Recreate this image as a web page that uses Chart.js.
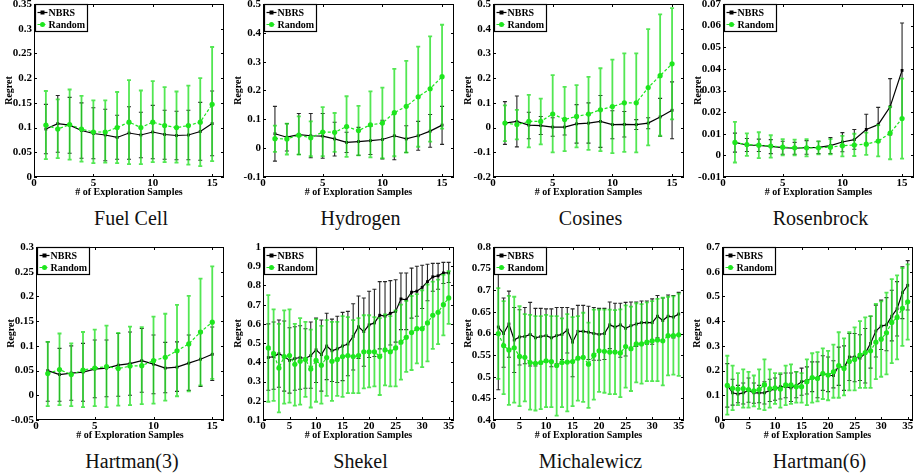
<!DOCTYPE html>
<html>
<head>
<meta charset="utf-8">
<script src="https://cdn.jsdelivr.net/npm/chart.js@4.4.1/dist/chart.umd.min.js"></script>
<style>
  html, body { margin: 0; padding: 0; background: #fff; }
  #wrap { position: relative; width: 920px; height: 474px; overflow: hidden; }
  canvas { position: absolute; }
  .ptitle { position: absolute; width: 200px; text-align: center; font-family: 'Liberation Serif', 'Times New Roman', serif; font-size: 20px; line-height: 20px; color: #111; }
</style>
</head>
<body>
<div id="wrap"></div>
<script>
// x positions and tick labels
const xs15 = [1,2,3,4,5,6,7,8,9,10,11,12,13,14,15];
const xs35 = [1,2,3,4,5,6,7,8,9,10,11,12,13,14,15,16,17,18,19,20,21,22,23,24,25,26,27,28,29,30,31,32,33,34,35];
const xTicks15 = [0,5,10,15];
const xTicks35 = [0,5,10,15,20,25,30,35];

// Fuel Cell
const fuelYTicks = [0,0.05,0.1,0.15,0.2,0.25,0.3,0.35];
const fuelNbrs   = [0.097,0.108,0.105,0.094,0.088,0.085,0.080,0.089,0.085,0.091,0.086,0.084,0.085,0.092,0.108];
const fuelNbrsLo = [0.047,0.050,0.048,0.038,0.037,0.033,0.036,0.036,0.039,0.037,0.036,0.035,0.035,0.034,0.043];
const fuelNbrsHi = [0.147,0.165,0.161,0.150,0.140,0.137,0.125,0.142,0.131,0.145,0.135,0.133,0.135,0.151,0.174];
const fuelRand   = [0.105,0.097,0.106,0.097,0.091,0.091,0.100,0.111,0.100,0.111,0.104,0.100,0.104,0.111,0.147];
const fuelRandLo = [0.036,0.038,0.035,0.031,0.028,0.029,0.028,0.026,0.026,0.030,0.030,0.029,0.025,0.022,0.032];
const fuelRandHi = [0.174,0.157,0.177,0.164,0.155,0.155,0.172,0.196,0.175,0.194,0.182,0.173,0.185,0.200,0.263];

// Hydrogen
const hydroYTicks = [-0.1,0,0.1,0.2,0.3,0.4,0.5];
const hydroNbrs   = [0.050,0.038,0.047,0.043,0.042,0.032,0.020,0.023,0.026,0.030,0.043,0.032,0.043,0.059,0.080];
const hydroNbrsLo = [-0.045,-0.010,-0.022,-0.033,-0.035,-0.027,-0.015,-0.025,-0.022,-0.037,-0.040,-0.015,-0.007,0.003,0.013];
const hydroNbrsHi = [0.145,0.085,0.120,0.120,0.120,0.090,0.055,0.072,0.075,0.097,0.125,0.078,0.093,0.117,0.145];
const hydroRand   = [0.033,0.032,0.045,0.036,0.056,0.055,0.075,0.061,0.081,0.087,0.123,0.145,0.178,0.206,0.248];
const hydroRandLo = [-0.013,-0.022,-0.022,-0.028,-0.028,-0.013,-0.030,-0.025,-0.032,-0.035,-0.028,-0.015,0.005,0.023,0.068];
const hydroRandHi = [0.078,0.085,0.110,0.093,0.142,0.122,0.180,0.147,0.197,0.210,0.275,0.303,0.352,0.388,0.428];

// Cosines
const cosYTicks = [-0.2,-0.1,0,0.1,0.2,0.3,0.4,0.5];
const cosNbrs   = [0.018,0.025,0.010,0.008,0.002,0.002,0.015,0.018,0.025,0.012,0.013,0.012,0.018,0.043,0.070];
const cosNbrsLo = [-0.068,-0.078,-0.045,-0.028,-0.035,-0.030,-0.063,-0.063,-0.080,-0.045,-0.038,-0.008,-0.005,-0.035,-0.045];
const cosNbrsHi = [0.105,0.128,0.062,0.045,0.040,0.035,0.093,0.100,0.130,0.068,0.065,0.032,0.040,0.118,0.185];
const cosRand   = [0.018,0.012,0.025,0.025,0.055,0.033,0.045,0.055,0.072,0.085,0.100,0.100,0.162,0.210,0.258];
const cosRandLo = [-0.055,-0.048,-0.080,-0.068,-0.100,-0.095,-0.080,-0.090,-0.095,-0.103,-0.098,-0.100,-0.072,-0.033,0.033];
const cosRandHi = [0.090,0.072,0.132,0.117,0.212,0.165,0.172,0.205,0.240,0.275,0.300,0.300,0.398,0.458,0.483];

// Rosenbrock
const rosYTicks = [-0.01,0,0.01,0.02,0.03,0.04,0.05,0.06,0.07];
const rosNbrs   = [0.0060,0.0048,0.0046,0.0042,0.0036,0.0033,0.0036,0.0037,0.0045,0.0062,0.0073,0.0120,0.0142,0.0225,0.0393];
const rosNbrsLo = [0.0015,0.0018,0.0018,0.0008,0.0005,0.0005,0.0005,0.0008,0.0008,0.0017,0.0028,0.0050,0.0062,0.0095,0.0175];
const rosNbrsHi = [0.0103,0.0078,0.0075,0.0073,0.0065,0.0060,0.0068,0.0065,0.0082,0.0105,0.0120,0.0190,0.0222,0.0355,0.0612];
const rosRand   = [0.0060,0.0050,0.0047,0.0043,0.0038,0.0035,0.0035,0.0035,0.0038,0.0045,0.0048,0.0052,0.0066,0.0103,0.0170];
const rosRandLo = [-0.0033,-0.0002,-0.0013,-0.0010,0.0000,0.0000,-0.0005,0.0005,0.0005,-0.0005,-0.0003,0.0002,-0.0005,-0.0018,-0.0015];
const rosRandHi = [0.0155,0.0102,0.0107,0.0093,0.0075,0.0073,0.0075,0.0065,0.0075,0.0090,0.0100,0.0105,0.0140,0.0225,0.0355];

// Hartman(3)
const h3YTicks = [-0.05,0,0.05,0.1,0.15,0.2,0.25,0.3];
const h3Nbrs   = [0.050,0.042,0.045,0.047,0.053,0.055,0.061,0.064,0.070,0.063,0.055,0.057,0.065,0.073,0.083];
const h3NbrsLo = [-0.012,-0.012,-0.010,-0.012,-0.005,-0.003,-0.002,0.000,0.006,0.003,0.005,0.008,0.010,0.018,0.030];
const h3NbrsHi = [0.108,0.095,0.100,0.105,0.112,0.112,0.125,0.128,0.135,0.122,0.107,0.108,0.122,0.130,0.138];
const h3Rand   = [0.044,0.052,0.042,0.051,0.055,0.058,0.054,0.059,0.060,0.070,0.077,0.090,0.104,0.128,0.148];
const h3RandLo = [-0.022,-0.020,-0.022,-0.024,-0.022,-0.024,-0.021,-0.020,-0.018,-0.017,-0.011,-0.002,0.008,0.020,0.033];
const h3RandHi = [0.108,0.125,0.105,0.128,0.133,0.141,0.126,0.139,0.138,0.159,0.165,0.183,0.201,0.236,0.261];

// Shekel
const shekYTicks = [0.1,0.2,0.3,0.4,0.5,0.6,0.7,0.8,0.9,1];
const shekNbrs   = [0.425,0.430,0.445,0.430,0.410,0.420,0.425,0.420,0.435,0.465,0.440,0.485,0.460,0.470,0.485,0.495,0.535,0.585,0.560,0.595,0.605,0.645,0.640,0.655,0.665,0.730,0.725,0.765,0.770,0.790,0.820,0.845,0.850,0.865,0.865];
const shekNbrsLo = [0.255,0.260,0.270,0.250,0.240,0.255,0.260,0.265,0.265,0.295,0.250,0.310,0.300,0.295,0.305,0.330,0.360,0.420,0.380,0.425,0.430,0.470,0.460,0.490,0.505,0.570,0.570,0.630,0.640,0.680,0.720,0.770,0.780,0.810,0.815];
const shekNbrsHi = [0.600,0.610,0.620,0.615,0.580,0.585,0.590,0.575,0.610,0.630,0.620,0.655,0.625,0.640,0.660,0.665,0.705,0.745,0.735,0.770,0.780,0.820,0.820,0.825,0.830,0.865,0.865,0.890,0.900,0.905,0.910,0.915,0.915,0.920,0.920];
const shekRand   = [0.475,0.445,0.370,0.430,0.435,0.390,0.405,0.415,0.365,0.410,0.385,0.425,0.405,0.415,0.430,0.435,0.430,0.435,0.455,0.455,0.455,0.430,0.465,0.455,0.475,0.505,0.530,0.555,0.575,0.575,0.605,0.645,0.660,0.700,0.735];
const shekRandLo = [0.195,0.200,0.140,0.185,0.190,0.175,0.180,0.220,0.165,0.195,0.185,0.225,0.200,0.225,0.220,0.240,0.240,0.240,0.265,0.270,0.275,0.230,0.280,0.275,0.275,0.310,0.350,0.360,0.395,0.375,0.405,0.470,0.495,0.540,0.600];
const shekRandHi = [0.750,0.675,0.600,0.670,0.675,0.600,0.630,0.610,0.570,0.625,0.590,0.620,0.610,0.610,0.640,0.635,0.620,0.630,0.645,0.645,0.635,0.630,0.650,0.640,0.670,0.700,0.720,0.745,0.755,0.775,0.805,0.820,0.830,0.855,0.875];

// Michalewicz
const michYTicks = [0.4,0.45,0.5,0.55,0.6,0.65,0.7,0.75,0.8];
const michNbrs   = [0.615,0.600,0.622,0.585,0.592,0.593,0.598,0.590,0.593,0.595,0.590,0.595,0.598,0.608,0.580,0.605,0.605,0.603,0.600,0.598,0.600,0.620,0.615,0.620,0.612,0.618,0.622,0.625,0.625,0.625,0.640,0.630,0.640,0.638,0.645];
const michNbrsLo = [0.470,0.522,0.545,0.510,0.527,0.530,0.525,0.525,0.530,0.535,0.523,0.530,0.540,0.555,0.500,0.545,0.545,0.540,0.538,0.538,0.540,0.565,0.560,0.545,0.548,0.565,0.570,0.575,0.575,0.575,0.590,0.585,0.595,0.590,0.597];
const michNbrsHi = [0.760,0.682,0.698,0.660,0.655,0.660,0.672,0.658,0.658,0.657,0.657,0.660,0.660,0.660,0.657,0.665,0.665,0.663,0.660,0.658,0.658,0.673,0.670,0.670,0.672,0.673,0.673,0.675,0.675,0.680,0.688,0.682,0.689,0.688,0.695];
const michRand   = [0.600,0.572,0.562,0.567,0.547,0.545,0.533,0.531,0.533,0.537,0.535,0.526,0.533,0.534,0.535,0.543,0.545,0.529,0.550,0.560,0.559,0.557,0.557,0.555,0.570,0.565,0.576,0.576,0.580,0.583,0.585,0.583,0.595,0.595,0.597];
const michRandLo = [0.495,0.460,0.435,0.440,0.432,0.443,0.424,0.422,0.425,0.430,0.430,0.410,0.430,0.420,0.432,0.445,0.442,0.428,0.447,0.465,0.463,0.460,0.460,0.453,0.475,0.467,0.487,0.484,0.490,0.490,0.490,0.480,0.503,0.505,0.502];
const michRandHi = [0.705,0.675,0.687,0.685,0.663,0.645,0.643,0.640,0.640,0.643,0.640,0.640,0.635,0.645,0.638,0.640,0.648,0.625,0.655,0.655,0.655,0.655,0.654,0.656,0.665,0.662,0.670,0.668,0.672,0.675,0.680,0.683,0.685,0.686,0.692];

// Hartman(6)
const h6YTicks = [0,0.1,0.2,0.3,0.4,0.5,0.6,0.7];
const h6Nbrs   = [0.140,0.110,0.105,0.110,0.120,0.110,0.110,0.110,0.120,0.125,0.135,0.135,0.130,0.140,0.155,0.160,0.170,0.170,0.190,0.180,0.180,0.220,0.210,0.255,0.255,0.250,0.270,0.310,0.360,0.380,0.385,0.420,0.450,0.515,0.545];
const h6NbrsLo = [0.052,0.060,0.070,0.065,0.072,0.068,0.070,0.065,0.075,0.080,0.085,0.090,0.075,0.090,0.100,0.105,0.115,0.090,0.120,0.115,0.130,0.140,0.120,0.160,0.155,0.160,0.150,0.210,0.255,0.285,0.280,0.320,0.340,0.410,0.445];
const h6NbrsHi = [0.228,0.165,0.140,0.150,0.170,0.150,0.140,0.155,0.165,0.170,0.185,0.190,0.190,0.195,0.210,0.215,0.235,0.235,0.260,0.255,0.240,0.295,0.300,0.350,0.350,0.345,0.370,0.420,0.465,0.485,0.495,0.525,0.560,0.620,0.645];
const h6Rand   = [0.140,0.128,0.125,0.127,0.123,0.118,0.123,0.143,0.127,0.130,0.125,0.142,0.142,0.135,0.135,0.155,0.172,0.168,0.188,0.182,0.195,0.220,0.208,0.237,0.245,0.263,0.273,0.280,0.315,0.327,0.353,0.395,0.415,0.452,0.478];
const h6RandLo = [0.022,0.040,0.060,0.050,0.050,0.055,0.045,0.040,0.050,0.065,0.050,0.060,0.065,0.070,0.070,0.060,0.070,0.075,0.085,0.080,0.090,0.090,0.100,0.120,0.120,0.130,0.130,0.130,0.165,0.175,0.185,0.230,0.245,0.300,0.325];
const h6RandHi = [0.260,0.220,0.190,0.205,0.195,0.180,0.205,0.245,0.205,0.190,0.190,0.220,0.225,0.195,0.190,0.245,0.270,0.275,0.290,0.280,0.305,0.355,0.330,0.355,0.375,0.400,0.415,0.420,0.470,0.480,0.515,0.570,0.585,0.615,0.630];

const NB_COLOR = '#000000';
const NB_ERR = 'rgba(0,0,0,0.85)';
const RD_COLOR = '#1ee61e';
const RD_ERR = 'rgba(40,225,40,0.8)';
const SERIF = "'Liberation Serif', 'Times New Roman', serif";

// layout of each panel: canvas box (left, top, width), x range
const panels = [
  { title: 'Fuel Cell',    left: 0,   top: 0,   width: 228, xs: xs15, xTicks: xTicks15, xMax: 16, yTicks: fuelYTicks,  s: [fuelNbrs, fuelNbrsLo, fuelNbrsHi, fuelRand, fuelRandLo, fuelRandHi] },
  { title: 'Hydrogen',     left: 229, top: 0,   width: 229, xs: xs15, xTicks: xTicks15, xMax: 16, yTicks: hydroYTicks, s: [hydroNbrs, hydroNbrsLo, hydroNbrsHi, hydroRand, hydroRandLo, hydroRandHi] },
  { title: 'Cosines',      left: 459, top: 0,   width: 229, xs: xs15, xTicks: xTicks15, xMax: 16, yTicks: cosYTicks,   s: [cosNbrs, cosNbrsLo, cosNbrsHi, cosRand, cosRandLo, cosRandHi] },
  { title: 'Rosenbrock',   left: 689, top: 0,   width: 229, xs: xs15, xTicks: xTicks15, xMax: 16, yTicks: rosYTicks,   s: [rosNbrs, rosNbrsLo, rosNbrsHi, rosRand, rosRandLo, rosRandHi] },
  { title: 'Hartman(3)',   left: 2,   top: 243, width: 226, xs: xs15, xTicks: xTicks15, xMax: 16, yTicks: h3YTicks,    s: [h3Nbrs, h3NbrsLo, h3NbrsHi, h3Rand, h3RandLo, h3RandHi] },
  { title: 'Shekel',       left: 229, top: 243, width: 229, xs: xs35, xTicks: xTicks35, xMax: 36, yTicks: shekYTicks,  s: [shekNbrs, shekNbrsLo, shekNbrsHi, shekRand, shekRandLo, shekRandHi] },
  { title: 'Michalewicz',  left: 459, top: 243, width: 229, xs: xs35, xTicks: xTicks35, xMax: 36, yTicks: michYTicks,  s: [michNbrs, michNbrsLo, michNbrsHi, michRand, michRandLo, michRandHi] },
  { title: 'Hartman(6)',   left: 688, top: 243, width: 229, xs: xs35, xTicks: xTicks35, xMax: 36, yTicks: h6YTicks,    s: [h6Nbrs, h6NbrsLo, h6NbrsHi, h6Rand, h6RandLo, h6RandHi] }
];

const fmt = v => String(+v.toFixed(4));

// vertical error bars, drawn just before each dataset's line
const errorBars = {
  id: 'errorBars',
  beforeDatasetDraw(chart, args) {
    const ds = chart.data.datasets[args.index];
    const { xScale, yScale } = args.meta;
    const ctx = chart.ctx;
    ctx.save();
    ctx.strokeStyle = ds.errColor;
    ctx.lineWidth = ds.errWidth;
    ds.data.forEach((p, i) => {
      const x = xScale.getPixelForValue(p.x);
      const y1 = yScale.getPixelForValue(ds.errLo[i]);
      const y2 = yScale.getPixelForValue(ds.errHi[i]);
      ctx.beginPath();
      ctx.moveTo(x, y1); ctx.lineTo(x, y2);
      ctx.moveTo(x - 2, y1); ctx.lineTo(x + 2, y1);
      ctx.moveTo(x - 2, y2); ctx.lineTo(x + 2, y2);
      ctx.stroke();
    });
    ctx.restore();
  }
};

// box around the axes, inward ticks, legend
const frame = {
  id: 'frame',
  afterDraw(chart) {
    const { ctx, chartArea: a, scales } = chart;
    ctx.save();
    ctx.strokeStyle = '#000';
    ctx.lineWidth = 1;
    ctx.strokeRect(a.left + 0.5, a.top + 0.5, a.right - a.left - 1, a.bottom - a.top - 1);
    ctx.beginPath();
    scales.x.ticks.forEach(t => {
      const x = Math.round(scales.x.getPixelForValue(t.value)) + 0.5;
      ctx.moveTo(x, a.bottom); ctx.lineTo(x, a.bottom - 3);
      ctx.moveTo(x, a.top); ctx.lineTo(x, a.top + 3);
    });
    scales.y.ticks.forEach(t => {
      const y = Math.round(scales.y.getPixelForValue(t.value)) + 0.5;
      ctx.moveTo(a.left, y); ctx.lineTo(a.left + 3, y);
      ctx.moveTo(a.right, y); ctx.lineTo(a.right - 3, y);
    });
    ctx.stroke();

    // legend
    const bx = a.left + 1.5, by = a.top + 0.5, bw = 52, bh = 27;
    ctx.fillStyle = '#fff';
    ctx.fillRect(bx, by, bw, bh);
    ctx.lineWidth = 1.2;
    ctx.strokeRect(bx, by, bw, bh);
    ctx.font = 'bold 10px ' + SERIF;
    ctx.textBaseline = 'middle';
    chart.data.datasets.forEach((ds, i) => {
      const y = by + 8 + i * 12;
      ctx.strokeStyle = ds.borderColor;
      ctx.lineWidth = 1.2;
      ctx.setLineDash(ds.borderDash || []);
      ctx.beginPath();
      ctx.moveTo(bx + 2, y); ctx.lineTo(bx + 12, y);
      ctx.stroke();
      ctx.setLineDash([]);
      ctx.fillStyle = ds.pointBackgroundColor;
      if (ds.pointStyle === 'rect') {
        ctx.fillRect(bx + 5, y - 2, 4, 4);
      } else {
        ctx.beginPath(); ctx.arc(bx + 7, y, 2.5, 0, Math.PI * 2); ctx.fill();
      }
      ctx.fillStyle = '#000';
      ctx.fillText(ds.label, bx + 13, y + 0.5);
    });
    ctx.restore();
  }
};

const wrap = document.getElementById('wrap');

panels.forEach(p => {
  const cv = document.createElement('canvas');
  cv.width = p.width; cv.height = 200;
  cv.style.left = p.left + 'px'; cv.style.top = p.top + 'px';
  wrap.appendChild(cv);

  const tl = document.createElement('div');
  tl.className = 'ptitle';
  tl.textContent = p.title;
  tl.style.left = (p.left + 34 + (p.width - 34) / 2 - 100) + 'px';
  tl.style.top = (p.top + 208) + 'px';
  wrap.appendChild(tl);

  const [nb, nbLo, nbHi, rd, rdLo, rdHi] = p.s;
  const tickFont = { family: SERIF, weight: 'bold', size: 11 };
  const titleFont = { family: SERIF, weight: 'bold', size: 10 };

  new Chart(cv.getContext('2d'), {
    type: 'line',
    data: {
      datasets: [
        {
          label: 'NBRS', order: 1,
          data: p.xs.map((x, i) => ({ x, y: nb[i] })),
          errLo: nbLo, errHi: nbHi, errColor: NB_ERR, errWidth: 1.1,
          borderColor: NB_COLOR, borderWidth: 1.2,
          pointStyle: 'rect', pointRadius: 2, pointBackgroundColor: NB_COLOR, pointBorderWidth: 0
        },
        {
          label: 'Random', order: 0,
          data: p.xs.map((x, i) => ({ x, y: rd[i] })),
          errLo: rdLo, errHi: rdHi, errColor: RD_ERR, errWidth: 1.8,
          borderColor: RD_COLOR, borderWidth: 1.2, borderDash: [3, 2],
          pointStyle: 'circle', pointRadius: 2.6, pointBackgroundColor: RD_COLOR, pointBorderWidth: 0
        }
      ]
    },
    options: {
      responsive: false,
      animation: false,
      layout: { padding: { top: 4, right: 0, left: 0, bottom: 0 } },
      plugins: { legend: { display: false }, tooltip: { enabled: false } },
      scales: {
        x: {
          type: 'linear', min: 0, max: p.xMax,
          afterBuildTicks: s => { s.ticks = p.xTicks.map(v => ({ value: v })); },
          afterFit: s => { s.height = 23; s.paddingLeft = 0; s.paddingRight = 0; },
          grid: { display: false, drawTicks: false, tickLength: 0 }, border: { display: false },
          ticks: { font: tickFont, color: '#000', padding: 0, maxRotation: 0, autoSkip: false, callback: v => fmt(v) },
          title: { display: true, text: '# of Exploration Samples', font: titleFont, color: '#000', padding: { top: 0, bottom: 2 } }
        },
        y: {
          type: 'linear', min: p.yTicks[0], max: p.yTicks[p.yTicks.length - 1],
          afterBuildTicks: s => { s.ticks = p.yTicks.map(v => ({ value: v })); },
          afterFit: s => { s.width = 34; s.paddingTop = 0; s.paddingBottom = 0; },
          grid: { display: false, drawTicks: false, tickLength: 0 }, border: { display: false },
          ticks: { font: tickFont, color: '#000', padding: 2, autoSkip: false, callback: v => fmt(v) },
          title: { display: true, text: 'Regret', font: titleFont, color: '#000', padding: { top: 3.5, bottom: 0 } }
        }
      }
    },
    plugins: [errorBars, frame]
  });
});
</script>
</body>
</html>
